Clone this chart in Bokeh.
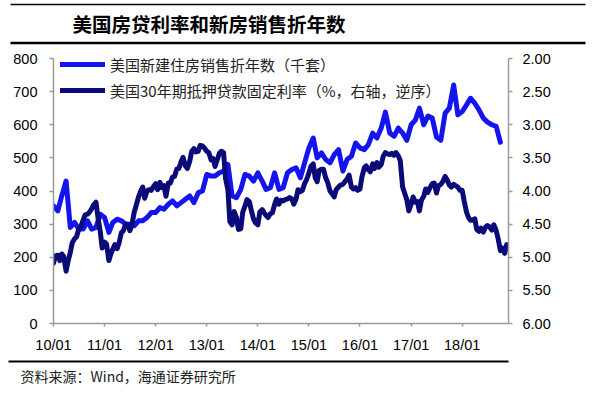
import pandas as pd
from bokeh.plotting import figure
from bokeh.layouts import column
from bokeh.core.properties import value
from bokeh.models import (Range1d, LinearAxis, FixedTicker, DatetimeTickFormatter,
                          PrintfTickFormatter, Legend, LegendItem)
from bokeh.embed import file_html
from bokeh.resources import INLINE

# ---- data ----
title_text = "美国房贷利率和新房销售折年数"
source_text = "资料来源：Wind，海通证券研究所"
sales_label = "美国新建住房销售折年数（千套）"
rate_label = "美国30年期抵押贷款固定利率（%，右轴，逆序）"

# US new home sales, SAAR, thousands, monthly 2010-01 .. 2018-10
sales_2010 = [355, 340, 385, 430, 290, 305, 285, 285, 310, 285, 290, 330]
sales_2011 = [320, 275, 305, 315, 310, 300, 300, 295, 310, 310, 320, 335]
sales_2012 = [335, 350, 345, 360, 370, 355, 365, 375, 385, 365, 395, 400]
sales_2013 = [450, 445, 445, 455, 460, 480, 385, 380, 405, 450, 445, 430]
sales_2014 = [455, 430, 405, 410, 455, 405, 410, 455, 465, 470, 440, 485]
sales_2015 = [530, 560, 500, 515, 495, 485, 510, 525, 460, 495, 505, 545]
sales_2016 = [530, 525, 540, 575, 560, 590, 638, 575, 565, 590, 575, 553]
sales_2017 = [600, 615, 650, 600, 626, 620, 563, 553, 635, 650, 720, 630]
sales_2018 = [640, 660, 680, 665, 645, 620, 608, 600, 595, 547]

# 30y fixed mortgage rate, %, semi-monthly 2010-01 .. 2018-11
rate_2010 = [5.09, 4.98, 4.97, 5.05, 4.95, 4.99, 5.21, 5.06, 4.93, 4.78, 4.72, 4.69,
             4.57, 4.54, 4.44, 4.36, 4.35, 4.32, 4.27, 4.21, 4.17, 4.40, 4.61, 4.86]
rate_2011 = [4.77, 4.80, 5.05, 4.95, 4.88, 4.81, 4.87, 4.78, 4.63, 4.60, 4.50, 4.50,
             4.60, 4.52, 4.32, 4.22, 4.09, 4.01, 3.94, 4.11, 4.00, 3.98, 3.99, 3.94]
rate_2012 = [3.89, 3.98, 3.87, 3.95, 3.92, 4.08, 3.88, 3.88, 3.79, 3.78, 3.67, 3.66,
             3.56, 3.49, 3.62, 3.66, 3.55, 3.40, 3.36, 3.41, 3.40, 3.31, 3.32, 3.35]
rate_2013 = [3.40, 3.42, 3.53, 3.51, 3.63, 3.54, 3.43, 3.40, 3.42, 3.81, 3.98, 4.46,
             4.51, 4.31, 4.40, 4.58, 4.57, 4.32, 4.23, 4.13, 4.16, 4.29, 4.42, 4.48]
rate_2014 = [4.51, 4.32, 4.28, 4.33, 4.37, 4.40, 4.34, 4.33, 4.20, 4.12, 4.20, 4.14,
             4.15, 4.13, 4.12, 4.10, 4.12, 4.20, 4.12, 3.98, 4.01, 3.99, 3.89, 3.83]
rate_2015 = [3.73, 3.63, 3.59, 3.80, 3.86, 3.69, 3.67, 3.67, 3.80, 3.87, 4.00, 4.04,
             4.09, 3.98, 3.94, 3.91, 3.90, 3.86, 3.82, 3.76, 3.94, 3.97, 3.95, 3.99]
rate_2016 = [3.97, 3.79, 3.65, 3.62, 3.68, 3.71, 3.59, 3.66, 3.57, 3.64, 3.60, 3.48,
             3.42, 3.44, 3.45, 3.43, 3.46, 3.42, 3.47, 3.54, 3.94, 4.03, 4.13, 4.30]
rate_2017 = [4.20, 4.09, 4.17, 4.16, 4.30, 4.14, 4.08, 3.97, 4.02, 3.95, 3.89, 3.88,
             4.03, 3.92, 3.90, 3.86, 3.78, 3.83, 3.91, 3.94, 3.90, 3.92, 3.94, 3.99]
rate_2018 = [3.99, 4.15, 4.32, 4.40, 4.44, 4.44, 4.42, 4.58, 4.61, 4.56, 4.62, 4.55,
             4.52, 4.54, 4.59, 4.51, 4.60, 4.72, 4.90, 4.86, 4.94, 4.81]

left_ticks = [0, 100, 200, 300, 400, 500, 600, 700, 800]
right_ticks = [2.0, 2.5, 3.0, 3.5, 4.0, 4.5, 5.0, 5.5, 6.0]
tick_years = [2010, 2011, 2012, 2013, 2014, 2015, 2016, 2017, 2018]

sales = (sales_2010 + sales_2011 + sales_2012 + sales_2013 + sales_2014 +
         sales_2015 + sales_2016 + sales_2017 + sales_2018)
rate = (rate_2010 + rate_2011 + rate_2012 + rate_2013 + rate_2014 +
        rate_2015 + rate_2016 + rate_2017 + rate_2018)
sales_dates = pd.date_range("2010-01-01", periods=len(sales), freq="MS")
rate_dates = pd.date_range("2010-01-01", periods=len(rate), freq="SMS")

LIGHT = "#1414EC"
DARK = "#0A0A78"
AXIS = "#9a9a9a"
CJK = "Noto Sans CJK SC"
LAT = "Liberation Sans"
W = 600


def deco_fig(h):
    f = figure(width=W, height=h, output_backend="svg", toolbar_location=None,
               x_axis_location=None, y_axis_location=None,
               x_range=Range1d(0, W), y_range=Range1d(h, 0),
               min_border_left=0, min_border_right=0, min_border_top=0, min_border_bottom=0)
    f.frame_align = False
    f.outline_line_color = None
    f.xgrid.visible = False
    f.ygrid.visible = False
    return f


# ---- header: title between two rules ----
top = deco_fig(46)
top.segment(x0=[10, 10], y0=[4, 42.5], x1=[585, 585], y1=[4, 42.5],
            line_color="black", line_width=[1.5, 2.5])
top.text(x=[72], y=[23], text=[title_text], text_font=value(CJK), text_font_size="19.5px",
         text_font_style="bold", text_baseline="middle", text_color="black")

# ---- main chart ----
# frame spans page y 50..322.7; the 800 / 2.00 level sits 8px below the frame top
y_top = 800 * 272.7 / 264.7
r_top = 2.0 - 4.0 * 8 / 264.7
p = figure(width=W, height=310, x_axis_type="datetime",
           output_backend="svg", toolbar_location=None,
           min_border_left=53, min_border_right=92, min_border_top=4, min_border_bottom=33,
           x_range=Range1d(pd.Timestamp("2010-01-01"), pd.Timestamp("2018-11-28")),
           y_range=Range1d(0, y_top))
p.frame_align = False
p.outline_line_color = None
p.xgrid.visible = False
p.ygrid.visible = False

p.extra_y_ranges = {"rate": Range1d(6.0, r_top)}

r1 = p.line(sales_dates, sales, line_color=LIGHT, line_width=5, line_join="round", line_cap="round")
r2 = p.line(rate_dates, rate, line_color=DARK, line_width=5, line_join="round", line_cap="round",
            y_range_name="rate")

raxis = LinearAxis(y_range_name="rate")
p.add_layout(raxis, "right")

tick_ms = [pd.Timestamp(f"{y}-01-01").value // 10**6 for y in tick_years]
p.xaxis.ticker = FixedTicker(ticks=tick_ms)
fmt = "%y/%m"
p.xaxis.formatter = DatetimeTickFormatter(years=fmt, months=fmt, days=fmt, hours=fmt,
                                          minutes=fmt, seconds=fmt, milliseconds=fmt,
                                          microseconds=fmt, hourmin=fmt, minsec=fmt)
p.yaxis[0].ticker = FixedTicker(ticks=left_ticks)
p.yaxis[0].bounds = (left_ticks[0], left_ticks[-1])
raxis.ticker = FixedTicker(ticks=right_ticks)
raxis.bounds = (right_ticks[0], right_ticks[-1])
raxis.formatter = PrintfTickFormatter(format="%.2f")

for ax in [p.xaxis[0], p.yaxis[0], raxis]:
    ax.axis_line_color = AXIS
    ax.axis_line_width = 1.5
    ax.major_tick_line_color = AXIS
    ax.major_tick_line_width = 1.5
    ax.major_tick_in = 0
    ax.minor_tick_line_color = None
    ax.major_label_text_font = LAT
    ax.major_label_text_font_size = "14.5px"
    ax.major_label_text_color = "black"
p.xaxis[0].major_tick_out = 3
p.xaxis[0].major_label_standoff = 10
p.yaxis[0].major_tick_out = 4
p.yaxis[0].major_label_standoff = 12
raxis.major_tick_out = 4
raxis.major_label_standoff = 10

legend = Legend(items=[LegendItem(label=sales_label, renderers=[r1]),
                       LegendItem(label=rate_label, renderers=[r2])],
                location=(7, 222), padding=0, margin=0, spacing=4,
                glyph_width=45, glyph_height=22, label_height=22, label_standoff=5,
                label_text_font=CJK, label_text_font_size="15px", label_text_color="#222222",
                background_fill_alpha=0, border_line_alpha=0)
p.add_layout(legend, "center")

# ---- footer: rule and source ----
bot = deco_fig(42)
bot.segment(x0=[8], y0=[5], x1=[508], y1=[5], line_color="black", line_width=2)
bot.text(x=[20], y=[19], text=[source_text], text_font=value(CJK), text_font_size="14px",
         text_baseline="middle", text_color="#222222")

layout = column(top, p, bot, spacing=0)
open("out.html", "w").write(file_html(layout, INLINE))
